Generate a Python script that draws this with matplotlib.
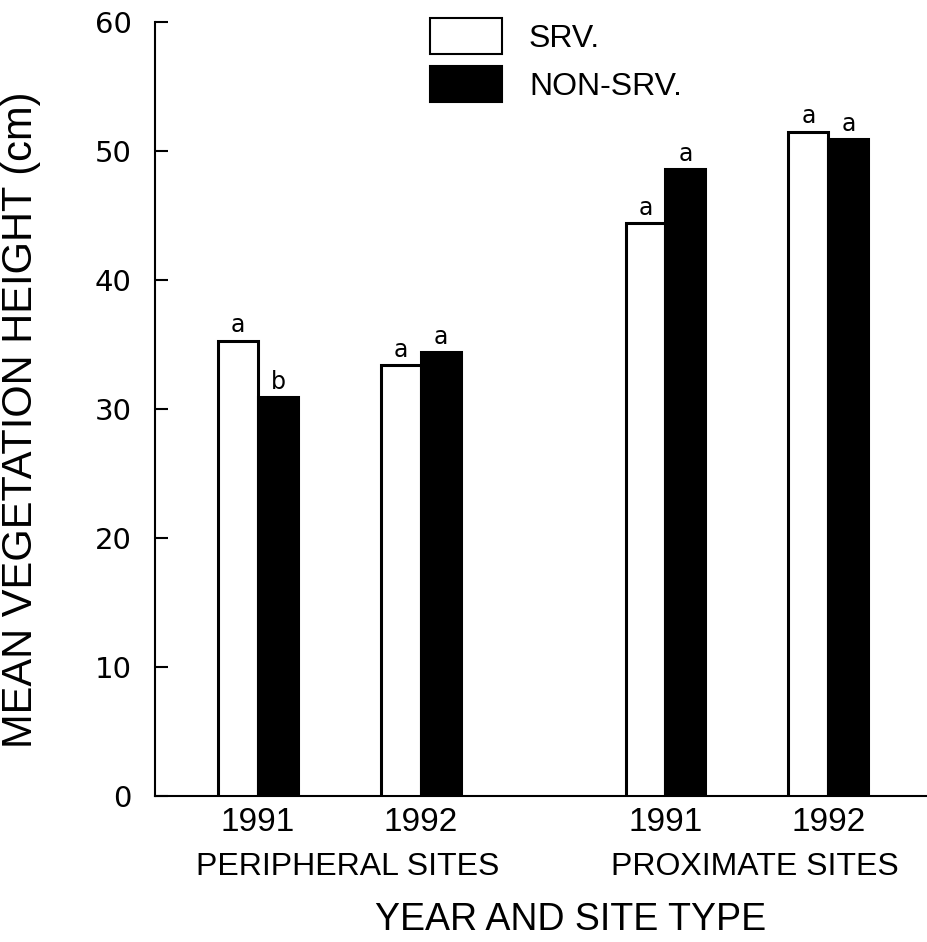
import matplotlib
matplotlib.use("Agg")
import matplotlib.pyplot as plt
from matplotlib.patches import Patch

# Data
years = ["1991", "1992", "1991", "1992"]
site_groups = ["PERIPHERAL SITES", "PROXIMATE SITES"]
srv = [35.3, 33.4, 44.4, 51.5]
non_srv = [30.9, 34.4, 48.6, 50.9]
srv_letters = ["a", "a", "a", "a"]
non_letters = ["b", "a", "a", "a"]
positions = [0.0, 1.0, 2.5, 3.5]
yticks = [0, 10, 20, 30, 40, 50, 60]

label_font = ["Liberation Sans", "DejaVu Sans"]
tick_font = ["DejaVu Sans"]

fig = plt.figure(figsize=(9.27, 9.42), dpi=100)
ax = fig.add_axes([155/927, (942-796)/942, (927-155)/927, (796-22)/942])

w = 0.245
xs_srv = [p - w/2 for p in positions]
xs_non = [p + w/2 for p in positions]
ax.bar(xs_srv, srv, width=w, color="white", edgecolor="black", linewidth=2.2, zorder=3)
ax.bar(xs_non, non_srv, width=w, color="black", edgecolor="black", linewidth=2.2, zorder=3)

for x, v, l in zip(xs_srv, srv, srv_letters):
    ax.text(x, v + 0.65, l, ha="center", va="baseline", fontsize=17, family=tick_font)
for x, v, l in zip(xs_non, non_srv, non_letters):
    ax.text(x, v + 0.65, l, ha="center", va="baseline", fontsize=17, family=tick_font)

ax.set_xlim(-0.632, 4.105)
ax.set_ylim(0, 60)
ax.set_yticks(yticks)
ax.set_yticklabels([str(t) for t in yticks], fontsize=21, family=tick_font)
ax.tick_params(axis="y", direction="in", length=9, width=1.5, pad=17)
ax.set_xticks(positions)
ax.set_xticklabels(years, fontsize=24, family=label_font)
ax.tick_params(axis="x", length=0, pad=8)

for s in ["top", "right"]:
    ax.spines[s].set_visible(False)
ax.spines["left"].set_linewidth(1.5)
ax.spines["bottom"].set_linewidth(1.5)

trans = ax.get_xaxis_transform()
ax.text((positions[0] + positions[1]) / 2 + 0.05, -0.092, site_groups[0], transform=trans,
        ha="center", va="center", fontsize=23, family=label_font)
ax.text((positions[2] + positions[3]) / 2 + 0.05, -0.092, site_groups[1], transform=trans,
        ha="center", va="center", fontsize=23, family=label_font)
ax.text(1.92, -0.160, "YEAR AND SITE TYPE", transform=trans,
        ha="center", va="center", fontsize=27, family=label_font)
ax.text(-0.1736, 0.486, "MEAN VEGETATION HEIGHT (cm)", transform=ax.transAxes, rotation=90,
        ha="center", va="center", fontsize=30, family=label_font)

handles = [Patch(facecolor="white", edgecolor="black", linewidth=1.5, label="SRV."),
           Patch(facecolor="black", edgecolor="black", linewidth=1.5, label="NON-SRV.")]
leg = ax.legend(handles=handles, loc="upper left", bbox_to_anchor=((430-155)/772, (796-18)/774),
                frameon=False, borderpad=0, borderaxespad=0,
                handlelength=2.25, handleheight=1.37, handletextpad=0.85,
                labelspacing=0.36, prop={"family": label_font, "size": 23})

fig.savefig("out.png", dpi=100)
